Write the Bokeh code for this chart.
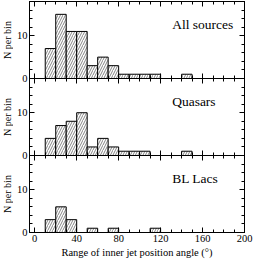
import math
from bokeh.plotting import figure
from bokeh.models import (Range1d, LinearAxis, FixedTicker, Label, ColumnDataSource)
from bokeh.core.properties import value
from bokeh.layouts import row
from bokeh.embed import file_html
from bokeh.resources import INLINE

bin_width = 10
bin_left = [0, 10, 20, 30, 40, 50, 60, 70, 80, 90, 100, 110, 120, 130, 140, 150, 160, 170, 180, 190]
all_counts = [0, 7, 15, 11, 11, 3, 5, 3, 1, 1, 1, 1, 0, 0, 1, 0, 0, 0, 0, 0]
quasar_counts = [0, 4, 7, 8, 10, 2, 4, 2, 1, 1, 1, 0, 0, 0, 1, 0, 0, 0, 0, 0]
bllac_counts = [0, 3, 6, 3, 0, 1, 0, 1, 0, 0, 0, 1, 0, 0, 0, 0, 0, 0, 0, 0]
panel_names = ["All sources", "Quasars", "BL Lacs"]
x_ticks = [0, 40, 80, 120, 160, 200]
y_ticks = [0, 10]
x_title = "Range of inner jet position angle (°)"
y_title = "N per bin"

FONT = "'Liberation Serif', 'Times New Roman', serif"
X0, X1 = -5, 200
PANEL_H = 18  # y extent of each panel (counts)
panels = [all_counts, quasar_counts, bllac_counts]
n = len(panels)
offsets = [(n - 1 - i) * PANEL_H for i in range(n)]  # top panel highest
yr = Range1d(0, n * PANEL_H)
TOP, BOTTOM, HEIGHT = 1, 25, 260
LABEL_W = 13

p = figure(width=253 - LABEL_W, height=HEIGHT, x_range=Range1d(X0, X1), y_range=yr,
           output_backend="svg", toolbar_location=None,
           min_border_left=13, min_border_right=9, min_border_top=TOP, min_border_bottom=BOTTOM)
p.xgrid.visible = False
p.ygrid.visible = False
p.outline_line_color = "black"
p.background_fill_color = "white"
p.border_fill_color = "white"

# bars
for counts, off in zip(panels, offsets):
    lefts = [l for l, c in zip(bin_left, counts) if c > 0]
    rights = [l + bin_width for l, c in zip(bin_left, counts) if c > 0]
    tops = [c + off for c in counts if c > 0]
    src = ColumnDataSource(dict(left=lefts, right=rights, top=tops))
    p.quad(left="left", right="right", top="top", bottom=off, source=src,
           fill_color="white", line_color="black", line_width=1,
           hatch_pattern="/", hatch_color="#666666", hatch_scale=5, hatch_weight=0.8)

x_minor = list(range(0, X1 + 1, 10))
y_major = [t + off for off in offsets for t in y_ticks]
y_minor = list(range(0, n * PANEL_H + 1, 2))

def base(ax):
    ax.axis_line_color = "black"
    ax.axis_line_width = 1
    ax.major_tick_line_color = "black"
    ax.minor_tick_line_color = "black"
    ax.major_tick_out = 0
    ax.minor_tick_out = 0
    ax.major_tick_in = 5
    ax.minor_tick_in = 3

# bottom x axis with labels
xa = p.xaxis[0]
xa.ticker = FixedTicker(ticks=x_ticks, minor_ticks=x_minor)
base(xa)
xa.major_label_text_font = FONT
xa.major_label_text_font_size = "10.5px"
xa.major_label_text_color = "black"
xa.major_label_standoff = 2
xa.axis_label = x_title
xa.axis_label_text_font = FONT
xa.axis_label_text_font_size = "10.5px"
xa.axis_label_text_font_style = "normal"
xa.axis_label_text_color = "black"
xa.axis_label_standoff = 2

# left y axis: one pair of labels per panel
ya = p.yaxis[0]
ya.ticker = FixedTicker(ticks=y_major, minor_ticks=y_minor)
base(ya)
ya.major_label_overrides = {t + off: str(t) for off in offsets for t in y_ticks}
ya.major_label_text_font = FONT
ya.major_label_text_font_size = "10.5px"
ya.major_label_text_color = "black"
ya.major_label_standoff = 2

def tick_only_axis(loc, ticks, length, fixed=None, both=False):
    ax = LinearAxis(ticker=FixedTicker(ticks=[], minor_ticks=ticks))
    base(ax)
    ax.minor_tick_in = length
    ax.minor_tick_out = length if both else 0
    ax.axis_label = None
    if fixed is not None:
        ax.fixed_location = fixed
    p.add_layout(ax, loc)

# top and right frame ticks
tick_only_axis("above", x_minor, 3)
tick_only_axis("above", x_ticks, 5)
tick_only_axis("right", y_minor, 3)
tick_only_axis("right", y_major, 5)
# internal panel boundaries with ticks on both sides
for off in offsets[:-1]:
    tick_only_axis("below", x_minor, 3, fixed=off, both=True)
    tick_only_axis("below", x_ticks, 5, fixed=off, both=True)

# panel titles
for name, off in zip(panel_names, offsets):
    p.add_layout(Label(x=131, y=off + 12.7, text=name, text_font=FONT, text_font_size="13.5px",
                       text_color="black", text_align="left", text_baseline="alphabetic"))

# narrow strip on the left carrying the per-panel y-axis titles
lf = figure(width=LABEL_W, height=HEIGHT, x_range=Range1d(0, LABEL_W), y_range=yr,
            output_backend="svg", toolbar_location=None,
            min_border_left=0, min_border_right=0, min_border_top=TOP, min_border_bottom=BOTTOM)
lf.xaxis.visible = False
lf.yaxis.visible = False
lf.xgrid.visible = False
lf.ygrid.visible = False
lf.outline_line_color = None
lf.background_fill_color = "white"
lf.border_fill_color = "white"
title_src = ColumnDataSource(dict(x=[6.8] * n, y=[off + PANEL_H / 2 for off in offsets],
                                  text=[y_title] * n))
lf.text(x="x", y="y", text="text", source=title_src, angle=math.pi / 2,
        text_font=value(FONT), text_font_size="10px", text_color="black",
        text_align="center", text_baseline="middle")

layout = row(lf, p, spacing=0)
open("out.html", "w").write(file_html(layout, INLINE))
